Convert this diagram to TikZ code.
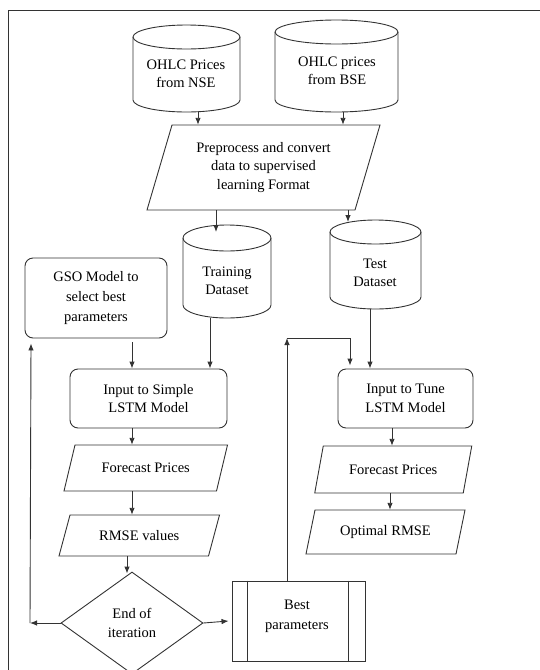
\documentclass[tikz,border=0pt]{standalone}
\usepackage{fontspec}
\setmainfont{Liberation Serif}
\usetikzlibrary{arrows.meta,calc,shapes.geometric}
\newcommand\drawcyl[5]{% xl xr yt yb ry
  \pgfmathsetmacro\cylrx{(#2-#1)/2}%
  \filldraw[line, fill=white] (#1,#3+#5) -- (#1,#4-#5) arc[start angle=180,end angle=0,x radius=\cylrx,y radius=#5] -- (#2,#3+#5) arc[start angle=0,end angle=-180,x radius=\cylrx,y radius=#5] -- cycle;
  \draw[line] (#1,#3+#5) arc[start angle=180,end angle=0,x radius=\cylrx,y radius=#5];
}
\newcommand\drawpara[5]{% cx cy w h s
  \filldraw[line, fill=white] (#1-#3/2+#5,#2-#4/2) -- (#1+#3/2+#5,#2-#4/2) -- (#1+#3/2-#5,#2+#4/2) -- (#1-#3/2-#5,#2+#4/2) -- cycle;
}
\begin{document}
\begin{tikzpicture}[x=1pt,y=-1pt,
  line/.style={draw=black!80, line width=0.9pt},
  arr/.style={line, -{Latex[length=7pt,width=5.5pt]}},
  txt/.style={align=center, font=\fontsize{14.5}{18.5}\selectfont, inner sep=0pt},
  area/.style={inner sep=0pt, outer sep=0pt},
  rbox/.style={line, fill=white, rounded corners=8pt, inner sep=0pt, align=center, font=\fontsize{14.5}{18.5}\selectfont},
]
\useasboundingbox (0,0) rectangle (539,670);
% frame
\draw[line] (8,675) -- (8,10) -- (545,10);

% cylinders
\drawcyl{133}{240}{25}{112}{12}
\node[area, minimum width=107, minimum height=87] (nse) at (186.5,68.5) {};
\node[txt] (nset) at (186,74) {OHLC Prices\\from NSE};
\drawcyl{275}{398}{20}{112}{12}
\node[area, minimum width=123, minimum height=92] (bse) at (336.5,66) {};
\node[txt] (bset) at (337,71) {OHLC prices\\from BSE};
\drawcyl{183}{271}{225}{318}{13}
\node[area, minimum width=88, minimum height=93] (train) at (227,271.5) {};
\node[txt] (traint) at (227,281) {Training\\Dataset};
\drawcyl{330}{421}{220}{309}{12}
\node[area, minimum width=91, minimum height=89] (test) at (375.5,264.5) {};
\node[txt] (testt) at (375,273) {Test\\Dataset};

% parallelograms
\drawpara{263.5}{167.5}{208}{85}{12.5}
\node[txt, minimum width=208, minimum height=85] (pre) at (263.5,167.5) {Preprocess and convert\\data to supervised\\learning Format};
\drawpara{145.75}{468}{152.5}{46}{5.5}
\node[txt, minimum width=152, minimum height=46] (fcl) at (145.75,468) {Forecast Prices};
\drawpara{139.25}{535.5}{149.5}{41}{5.5}
\node[txt, minimum width=149, minimum height=41] (rmse) at (139.25,535.5) {RMSE values};
\drawpara{393.25}{469.5}{148.5}{47}{4.25}
\node[txt, minimum width=148, minimum height=47] (fcr) at (393.25,469.5) {Forecast Prices};
\drawpara{385.5}{532}{150}{44}{4.5}
\node[txt, minimum width=150, minimum height=44] (opt) at (385.5,532) {Optimal RMSE};

% rounded boxes
\node[rbox, minimum width=142, minimum height=80, font=\fontsize{14.5}{20}\selectfont] (gso) at (96,298) {GSO Model to\\select best\\parameters};
\node[rbox, minimum width=157, minimum height=59] (simple) at (148.5,398.5) {Input to Simple\\LSTM Model};
\node[rbox, minimum width=135, minimum height=59] (tune) at (405.5,398.5) {Input to Tune\\LSTM Model};

% decision
\node[diamond, line, fill=white, minimum width=142, minimum height=102, inner sep=0pt, align=center, font=\fontsize{14.5}{18.5}\selectfont] (iter) at (132,623) {End of\\iteration};

% best parameters
\node[line, fill=white, minimum width=133, minimum height=80, inner sep=0pt] (best) at (298.5,621) {};
\node[txt, font=\fontsize{14.5}{20}\selectfont] (bestt) at (297,616) {Best\\parameters};
\draw[line] ([xshift=16pt]best.north west) -- ([xshift=16pt]best.south west);
\draw[line] ([xshift=-17pt]best.north east) -- ([xshift=-17pt]best.south east);

% connectors
\draw[arr] (nse.south -| 198,0) -- (pre.north -| 198,0);
\draw[arr] (bse.south -| 343,0) -- (pre.north -| 343,0);
\draw[arr] (pre.south -| 216,0) -- ($(train.north -| 216,0)+(0,7)$);
\draw[arr] (pre.south -| 348,0) -- ($(test.north -| 348,0)+(0,2)$);
\draw[arr] ($(gso.south -| 132,0)+(0,4)$) -- (simple.north -| 132,0);
\draw[arr] (train.south -| 210,0) -- (simple.north -| 210,0);
\draw[arr] (test.south -| 370,0) -- (tune.north -| 370,0);
\draw[arr] (simple.south -| 132,0) -- (fcl.north -| 132,0);
\draw[arr] (fcl.south -| 132,0) -- (rmse.north -| 132,0);
\draw[arr] (rmse.south -| 127,0) -- ($(iter.north -| 127,0)+(0,2)$);
\draw[arr] (tune.south -| 392,0) -- (fcr.north -| 392,0);
\draw[arr] (fcr.south -| 390,0) -- (opt.north -| 390,0);

\coordinate (c1) at (iter.west -| 30,0);
\coordinate (c2) at ($(gso.south -| 31,0)+(0,5)$);
\draw[arr] (iter.west) -- (c1);
\draw[arr] (c1) -- (c2);
\draw[arr] (iter.east) -- ($(best.west)+(-3,0)$);
\coordinate (c3) at (287,338);
\draw[arr] (best.north -| 287,0) -- (c3);
\draw[arr] (c3) -| ($(tune.north -| 350,0)+(0,-3)$);
\end{tikzpicture}
\end{document}
